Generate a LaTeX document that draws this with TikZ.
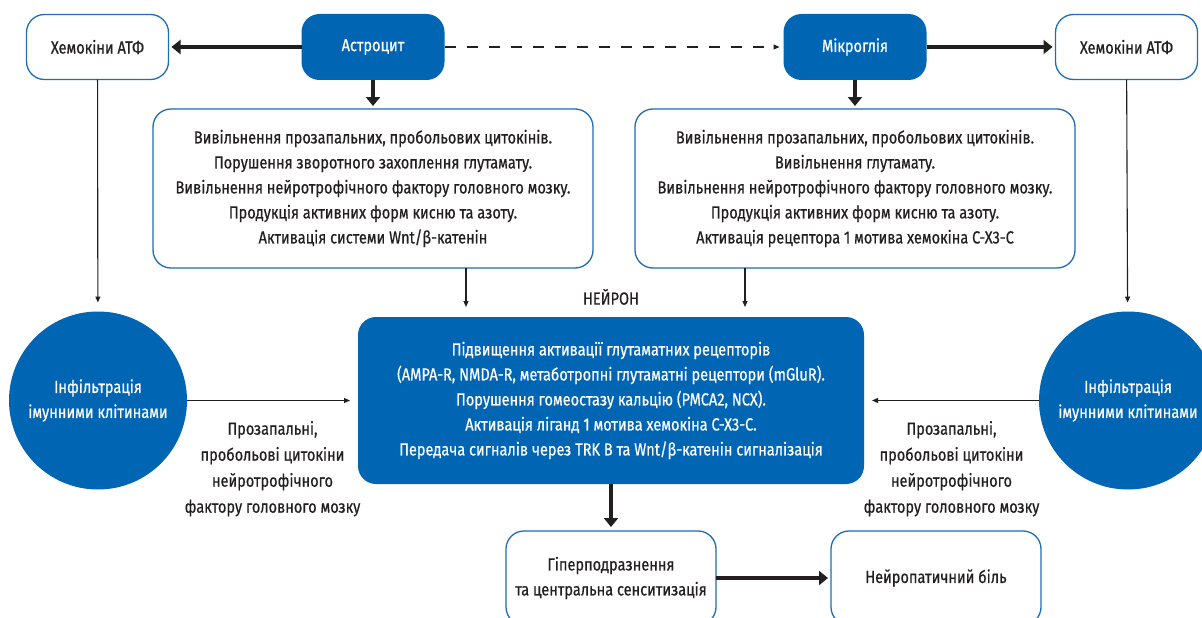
\documentclass[tikz,border=0pt]{standalone}
\usepackage{fontspec}
\setmainfont{Fira Sans}[FakeStretch=0.83, FakeBold=0.6]
\usetikzlibrary{arrows.meta, positioning}
\definecolor{ink}{HTML}{231F20}
\definecolor{cellblue}{HTML}{0066B3}
\definecolor{edgeblue}{HTML}{1F6DB4}
\tikzset{
  box/.style={
    rounded corners=18pt,
    align=center,
    inner sep=4pt,
    outer sep=0pt,
    text=ink,
    font=\fontsize{17.5}{25}\selectfont
  },
  plain/.style={box, draw=edgeblue, line width=1.3pt, fill=white},
  cell/.style={box, fill=cellblue, text=white, minimum width=143pt, minimum height=66pt},
  chem/.style={plain, minimum width=142pt, minimum height=65pt},
  release/.style={plain, minimum width=440pt, minimum height=159pt},
  neuronbox/.style={box, fill=cellblue, text=white, minimum width=506pt, minimum height=167pt},
  infil/.style={circle, fill=cellblue, text=white, align=center, minimum size=178pt,
    inner sep=0pt, outer sep=0pt, font=\fontsize{17.5}{25}\selectfont},
  outcome/.style={plain, minimum width=210pt, minimum height=94pt},
  caption/.style={align=center, text=ink, inner sep=0pt, font=\fontsize{17.5}{26}\selectfont},
  heavyarrow/.style={-{Triangle[length=9pt, width=14pt]}, line width=4pt, draw=ink, shorten >=3pt},
  thinarrow/.style={-{Triangle[length=6pt, width=5pt]}, line width=1.1pt, draw=ink},
  dasharrow/.style={thinarrow, dash pattern=on 11pt off 11pt, shorten >=4pt}
}

\begin{document}
\begin{tikzpicture}[x=1pt, y=-1pt]

\useasboundingbox[fill=white] (0,0) rectangle (1202,618);

\node[cell] (astro) at (373,47) {Астроцит};
\node[chem, left=133pt of astro] (chemL) {Хемокіни АТФ};
\node[cell, right=339pt of astro] (micro) {Мікроглія};
\node[chem, right=129pt of micro] (chemR) {Хемокіни АТФ};

\node[release, below=29pt of astro] (astroOut) {
  Вивільнення прозапальних, пробольових цитокінів.\\
  Порушення зворотного захоплення глутамату.\\
  Вивільнення нейротрофічного фактору головного мозку.\\
  Продукція активних форм кисню та азоту.\\
  Активація системи Wnt/β-катенін
};

\node[release, below=29pt of micro] (microOut) {
  Вивільнення прозапальних, пробольових цитокінів.\\
  Вивільнення глутамату.\\
  Вивільнення нейротрофічного фактору головного мозку.\\
  Продукція активних форм кисню та азоту.\\
  Активація рецептора 1 мотива хемокіна С-Х3-С
};

\node[neuronbox] (neuron) at (611,400.5) {
  Підвищення активації глутаматних рецепторів\\
  (AMPA-R, NMDA-R, метаботропні глутаматні рецептори (mGluR).\\
  Порушення гомеостазу кальцію (PMCA2, NCX).\\
  Активація ліганд 1 мотива хемокіна С-Х3-С.\\
  Передача сигналів через TRK B та Wnt/β-катенін сигналізація
};

\node[caption, above=12pt of neuron] (neuronLbl) {НЕЙРОН};

\node[infil, left=171pt of neuron] (immL) {Інфільтрація\\імунними клітинами};
\node[infil, right=175pt of neuron] (immR) {Інфільтрація\\імунними клітинами};

\node[outcome, below=47pt of neuron] (hyper) {
  Гіперподразнення\\
  та центральна сенситизація
};
\node[outcome, right=115pt of hyper] (pain) {Нейропатичний біль};

\draw[heavyarrow] (astro) -- (chemL);
\draw[heavyarrow] (micro) -- (chemR);
\draw[dasharrow] (astro) -- (micro);
\draw[heavyarrow] (astro) -- (astroOut);
\draw[heavyarrow] (micro) -- (microOut);
\draw[thinarrow, shorten >=9pt] (chemL) -- (immL);
\draw[thinarrow, shorten >=9pt] (chemR) -- (immR);
\draw[thinarrow, shorten >=10pt] ([xshift=93pt]astroOut.south) -- ([xshift=93pt]astroOut.south |- neuron.north);
\draw[thinarrow, shorten >=10pt] ([xshift=-110pt]microOut.south) -- ([xshift=-110pt]microOut.south |- neuron.north);
\draw[thinarrow, shorten >=8pt] (immL) -- node[caption, midway, below=20pt] {
  Прозапальні,\\
  пробольові цитокіни\\
  нейротрофічного\\
  фактору головного мозку
} (neuron);
\draw[thinarrow, shorten >=8pt] (immR) -- node[caption, midway, below=20pt] {
  Прозапальні,\\
  пробольові цитокіни\\
  нейротрофічного\\
  фактору головного мозку
} (neuron);
\draw[heavyarrow, shorten >=4pt] (neuron) -- (hyper);
\draw[heavyarrow] (hyper) -- (pain);

\end{tikzpicture}
\end{document}
